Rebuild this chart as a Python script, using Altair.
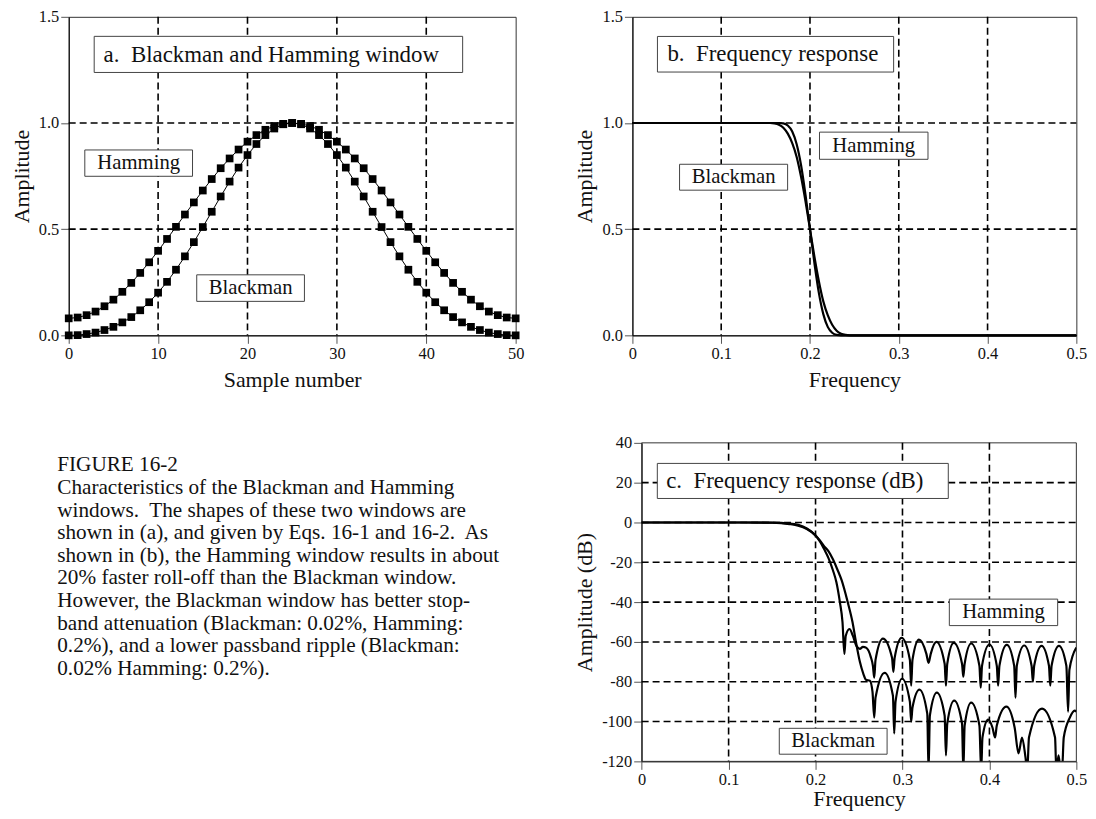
import altair as alt
import pandas as pd

F = "Liberation Serif"

# ---------------- data ----------------
sample_n = list(range(51))
hamming_w = [0.080, 0.084, 0.095, 0.112, 0.137, 0.168, 0.205, 0.247, 0.294, 0.344,
             0.398, 0.454, 0.511, 0.569, 0.626, 0.682, 0.736, 0.787, 0.833, 0.875,
             0.912, 0.943, 0.968, 0.986, 0.996, 1.000, 0.996, 0.986, 0.968, 0.943,
             0.912, 0.875, 0.833, 0.787, 0.736, 0.682, 0.626, 0.569, 0.511, 0.454,
             0.398, 0.344, 0.294, 0.247, 0.205, 0.168, 0.137, 0.112, 0.095, 0.084,
             0.080]
blackman_w = [0.000, 0.001, 0.006, 0.013, 0.025, 0.040, 0.061, 0.086, 0.118, 0.156,
              0.201, 0.252, 0.309, 0.372, 0.439, 0.510, 0.582, 0.654, 0.724, 0.790,
              0.849, 0.901, 0.943, 0.974, 0.994, 1.000, 0.994, 0.974, 0.943, 0.901,
              0.849, 0.790, 0.724, 0.654, 0.582, 0.510, 0.439, 0.372, 0.309, 0.252,
              0.201, 0.156, 0.118, 0.086, 0.061, 0.040, 0.025, 0.013, 0.006, 0.001,
              0.000]

# (b) frequency response, linear amplitude
blk_b_f = [0, 0.155, 0.16, 0.165, 0.17, 0.175, 0.18, 0.185, 0.19, 0.195, 0.2,
           0.205, 0.21, 0.215, 0.22, 0.225, 0.23, 0.235, 0.24, 0.245, 0.5]
blk_b_a = [1, 1, 0.998, 0.992, 0.978, 0.95, 0.905, 0.84, 0.745, 0.63, 0.5,
           0.37, 0.255, 0.16, 0.095, 0.05, 0.022, 0.008, 0.002, 0, 0]
ham_b_f = [0, 0.165, 0.17, 0.175, 0.18, 0.185, 0.19, 0.195, 0.2, 0.205, 0.21,
           0.215, 0.22, 0.225, 0.23, 0.235, 0.5]
ham_b_a = [1, 1, 0.998, 0.988, 0.96, 0.9, 0.8, 0.66, 0.5, 0.34, 0.2,
           0.1, 0.04, 0.012, 0.002, 0, 0]

# (c) frequency response in dB
ham_c_f = [0, 0.1, 0.15, 0.17, 0.18, 0.19, 0.2, 0.205, 0.21, 0.215, 0.22, 0.224,
           0.228, 0.231, 0.2332, 0.2347, 0.239, 0.243, 0.247, 0.251, 0.2545, 0.2585,
           0.2635, 0.266, 0.2675, 0.269, 0.2775, 0.288, 0.2895, 0.291, 0.299,
           0.3085, 0.31, 0.3115, 0.319, 0.3275, 0.33, 0.3325, 0.339, 0.3485, 0.35,
           0.3515, 0.359, 0.3685, 0.37, 0.3715, 0.379, 0.3885, 0.39, 0.3915, 0.4,
           0.4085, 0.41, 0.4115, 0.42, 0.4285, 0.43, 0.4315, 0.44, 0.4485, 0.45,
           0.4515, 0.46, 0.4685, 0.47, 0.4715, 0.48, 0.4885, 0.4905, 0.492, 0.5]
ham_c_db = [0, 0, -0.1, -0.5, -1.2, -3, -6.5, -9.5, -13.5, -18, -24, -30,
            -40, -50, -66, -57, -53.5, -57, -62, -63.5, -62.5, -63,
            -67.5, -72, -78, -69, -58.3, -68, -75, -68, -58,
            -69, -82, -69, -58.8, -66, -70.5, -66, -60, -71, -82,
            -71, -60.5, -71, -77.5, -71, -60.8, -72, -83, -72, -61.3,
            -72, -82, -72, -61.5, -72, -88, -72, -61.8, -72, -80,
            -72, -62, -72, -82, -72, -62, -72, -95, -74, -62.8]
blk_c_f = [0, 0.1, 0.15, 0.17, 0.18, 0.19, 0.2, 0.205, 0.21, 0.215, 0.22, 0.225,
           0.23, 0.237, 0.2425, 0.2465, 0.251, 0.255, 0.258, 0.2625, 0.2655,
           0.2675, 0.269, 0.2795, 0.289, 0.2905, 0.292, 0.2995, 0.3085, 0.31,
           0.3115, 0.3195, 0.3285, 0.33, 0.3315, 0.3395, 0.3485, 0.35, 0.3515,
           0.3595, 0.3685, 0.37, 0.3715, 0.379, 0.3885, 0.3905, 0.392, 0.3985,
           0.4035, 0.4065, 0.4085, 0.4195, 0.429, 0.4335, 0.4375, 0.4415, 0.4435,
           0.4455, 0.4605, 0.4755, 0.477, 0.4795, 0.482, 0.4835, 0.4855, 0.4925,
           0.498, 0.5]
blk_c_db = [0, 0, -0.15, -0.8, -1.6, -3.3, -6.5, -9, -12, -14.5, -18.5, -23.5,
            -29, -40, -50, -60, -70, -76, -79, -79.5, -85,
            -98, -88, -75.5, -87, -106, -90, -78.5, -90, -100,
            -93, -84, -96, -125, -97, -85.5, -97, -117, -101,
            -89.5, -101, -125, -102, -90.5, -102, -125, -108, -99,
            -103, -108, -102, -92.5, -103, -116, -108, -118, -125,
            -108, -93.5, -108, -125, -117, -125, -125, -108, -98,
            -94.5, -95]

# tick values and grid positions
a_xticks = [0, 10, 20, 30, 40, 50]
a_yticks = [0.0, 0.5, 1.0, 1.5]
a_xgrid = [10, 20, 30, 40]
a_ygrid = [0.5, 1.0]
f_ticks = [0, 0.1, 0.2, 0.3, 0.4, 0.5]
f_grid = [0.1, 0.2, 0.3, 0.4]
b_yticks = [0.0, 0.5, 1.0, 1.5]
b_ygrid = [0.5, 1.0]
c_yticks = [-120, -100, -80, -60, -40, -20, 0, 20, 40]
c_ygrid = [-100, -80, -60, -40, -20, 0, 20]

caption_lines = [
    "FIGURE 16-2",
    "Characteristics of the Blackman and Hamming",
    "windows.\u00a0 The shapes of these two windows are",
    "shown in (a), and given by Eqs. 16-1 and 16-2.\u00a0 As",
    "shown in (b), the Hamming window results in about",
    "20% faster roll-off than the Blackman window.",
    "However, the Blackman window has better stop-",
    "band attenuation (Blackman: 0.02%, Hamming:",
    "0.2%), and a lower passband ripple (Blackman:",
    "0.02% Hamming: 0.2%).",
]

# annotation boxes (data units of each panel)
a_title = dict(text="a.\u00a0 Blackman and Hamming window", x=3.9, y=1.322,
               x1=2.85, x2=44.07, y1=1.238, y2=1.408)
a_labels = [dict(text="Hamming", x=7.83, y=0.811, x1=1.8, x2=13.85, y1=0.749, y2=0.873),
            dict(text="Blackman", x=20.35, y=0.2225, x1=14.32, x2=26.37, y1=0.16, y2=0.285)]
b_title = dict(text="b.\u00a0 Frequency response", x=0.0394, y=1.324,
               x1=0.0282, x2=0.2942, y1=1.24, y2=1.4076)
b_labels = [dict(text="Hamming", x=0.2718, y=0.893, x1=0.2107, x2=0.3329, y1=0.829, y2=0.957),
            dict(text="Blackman", x=0.114, y=0.7446, x1=0.0531, x2=0.1748, y1=0.6836, y2=0.8056)]
c_title = dict(text="c.\u00a0 Frequency response (dB)", x=0.0282, y=20.9,
               x1=0.018, x2=0.3527, y1=12.06, y2=29.67)
c_labels = [dict(text="Hamming", x=0.4162, y=-45.15, x1=0.3539, x2=0.4785, y1=-51.8, y2=-38.5),
            dict(text="Blackman", x=0.2203, y=-109.9, x1=0.1583, x2=0.2823, y1=-116.4, y2=-103.4)]


# ---------------- helpers ----------------
def axis(values, title, tpad, fmt=None, expr=None, offset=None):
    kw = dict(values=values, title=title, grid=False, tickSize=8, tickColor="#555",
              tickWidth=1, domainColor="#000", domainWidth=1, labelFont=F,
              labelFontSize=16.5, labelColor="#111", titleFont=F, titleFontSize=22,
              titleFontWeight="normal", titleColor="#111", labelPadding=2,
              labelFlush=False, labelOverlap=False, titlePadding=tpad)
    if fmt is not None:
        kw["format"] = fmt
    if expr is not None:
        kw["labelExpr"] = expr
    if offset is not None:
        kw["offset"] = offset
    return alt.Axis(**kw)


def panel(series, xdom, ydom, xax, yax, xgrid, ygrid, title, labels, w, h,
          xrange=None, frame=False):
    if xrange is None:
        xs = alt.Scale(domain=xdom, nice=False, zero=False)
    else:
        xs = alt.Scale(domain=xdom, range=xrange, nice=False, zero=False)
    ys = alt.Scale(domain=ydom, nice=False, zero=False)

    def X(f):
        return alt.X(f, scale=xs, axis=xax)

    def Y(f):
        return alt.Y(f, scale=ys, axis=yax)

    layers = []
    if frame:
        fr = pd.DataFrame({"x0": [xdom[0]], "x1": [xdom[1]],
                           "y0": [ydom[0]], "y1": [ydom[1]]})
        layers.append(alt.Chart(fr).mark_rect(fill="transparent", stroke="#333",
                                              strokeWidth=1).encode(
            x=X("x0:Q"), x2="x1:Q", y=Y("y0:Q"), y2="y1:Q"))
    gx = alt.Chart(pd.DataFrame({"v": xgrid})).mark_rule(
        color="black", strokeWidth=1.6, strokeDash=[7, 4]).encode(x=X("v:Q"))
    gy = alt.Chart(pd.DataFrame({"v": ygrid, "x0": xdom[0], "x1": xdom[1]})).mark_rule(
        color="black", strokeWidth=1.6, strokeDash=[7, 4]).encode(
        y=Y("v:Q"), x=X("x0:Q"), x2="x1:Q")
    layers += [gx, gy]
    for kind, mark, df, xf, yf, extra in series:
        enc = dict(x=X(xf), y=Y(yf))
        enc.update(extra)
        base = alt.Chart(df)
        m = base.mark_square(**mark) if kind == "square" else base.mark_line(**mark)
        layers.append(m.encode(**enc))
    ann = pd.DataFrame([title] + labels)
    boxes = alt.Chart(ann).mark_rect(fill="white", stroke="#444", strokeWidth=1).encode(
        x=X("x1:Q"), x2="x2:Q", y=Y("y1:Q"), y2="y2:Q")
    ttxt = alt.Chart(pd.DataFrame([title])).mark_text(
        align="left", baseline="middle", font=F, fontSize=23, color="#111").encode(
        x=X("x:Q"), y=Y("y:Q"), text="text:N")
    ltxt = alt.Chart(pd.DataFrame(labels)).mark_text(
        align="center", baseline="middle", font=F, fontSize=20.8, color="#111").encode(
        x=X("x:Q"), y=Y("y:Q"), text="text:N")
    layers += [boxes, ttxt, ltxt]
    props = dict(width=w, height=h)
    if frame:
        props["view"] = alt.ViewBackground(stroke="transparent")
    return alt.layer(*layers).properties(**props)


# ---------------- panel a ----------------
A_X = [0, 50]
A_Y = [0, 1.5]
df_a = pd.DataFrame({"n": sample_n * 2, "amp": hamming_w + blackman_w,
                     "win": ["Hamming"] * 51 + ["Blackman"] * 51})
pa = panel(
    [("line", dict(color="black", strokeWidth=1), df_a, "n:Q", "amp:Q",
      dict(detail="win:N")),
     ("square", dict(size=60, color="black", opacity=1), df_a, "n:Q", "amp:Q", {})],
    A_X, A_Y,
    axis(a_xticks, "Sample number", 8), axis(a_yticks, "Amplitude", 5, fmt=".1f"),
    a_xgrid, a_ygrid, a_title, a_labels, 449, 320)

# ---------------- panel b ----------------
B_X = [0, 0.5]
B_Y = [0, 1.5]
df_b = pd.DataFrame({"f": blk_b_f + ham_b_f, "amp": blk_b_a + ham_b_a,
                     "win": ["Blackman"] * len(blk_b_f) + ["Hamming"] * len(ham_b_f)})
pb = panel(
    [("line", dict(color="black", strokeWidth=2.2, interpolate="monotone"), df_b,
      "f:Q", "amp:Q", dict(detail="win:N"))],
    B_X, B_Y,
    axis(f_ticks, "Frequency", 8, expr="'' + datum.value"),
    axis(b_yticks, "Amplitude", 5, fmt=".1f"),
    f_grid, b_ygrid, b_title, b_labels, 446, 320)

# ---------------- panel c ----------------
C_X = [0, 0.5]
C_Y = [-120, 40]
df_c = pd.DataFrame({"f": ham_c_f + blk_c_f, "db": ham_c_db + blk_c_db,
                     "win": ["Hamming"] * len(ham_c_f) + ["Blackman"] * len(blk_c_f)})
pc = panel(
    [("line", dict(color="black", strokeWidth=2.2, interpolate="monotone", clip=True),
      df_c, "f:Q", "db:Q", dict(detail="win:N"))],
    C_X, C_Y,
    axis(f_ticks, "Frequency", 1, expr="'' + datum.value"),
    axis(c_yticks, "Amplitude (dB)", 5, expr="'' + datum.value", offset=-9.3),
    f_grid, c_ygrid, c_title, c_labels, 446, 320, xrange=[9.3, 446], frame=True)

# ---------------- caption ----------------
cap = alt.Chart(pd.DataFrame({"k": [0]})).mark_text(
    text=caption_lines, align="left", baseline="alphabetic", font=F, fontSize=21.3,
    lineHeight=22.7, color="#111").encode(
    x=alt.value(-11.5), y=alt.value(28.7)).properties(
    width=449, height=320, view=alt.ViewBackground(stroke="transparent"))

chart = alt.concat(pa, pb, cap, pc, columns=2, bounds="flush", align="none",
                   spacing={"row": 108, "column": 117.3},
                   padding={"left": 1, "top": -2, "right": 0, "bottom": 0}
                   ).configure_view(stroke="#333", strokeWidth=1)

chart.save("out.html", embed_options={"renderer": "svg", "actions": False})
